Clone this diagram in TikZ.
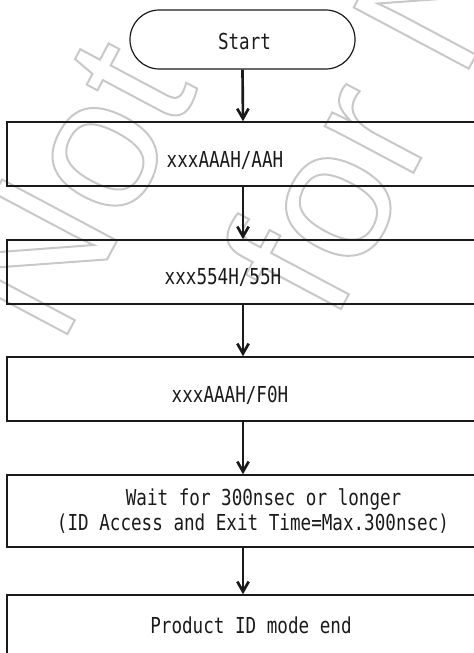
\documentclass[tikz,border=0pt]{standalone}
\usepackage{fontspec}
\usepackage{xcolor}
\usepackage{tikz}
\usetikzlibrary{arrows.meta, positioning}
\newfontfamily\flowfont[FakeStretch=0.80]{DejaVu Sans Mono}
\newfontfamily\stampfont{Liberation Sans}
\definecolor{Ink}  {HTML}{1A1A1A}
\definecolor{Stamp}{HTML}{C8C8C8}
% outline text (text rendering mode 1)
\newcommand{\outlinetext}[1]{\special{pdf:literal direct 1 Tr 1.5 w}#1\special{pdf:literal direct 0 Tr}}
\tikzset{
  flow arrow/.style={-{Straight Barb[length=7.5pt,width=8.5pt]}, line width=2pt, Ink},
}

\begin{document}
\begin{tikzpicture}[x=0.75pt, y=-0.75pt,
    terminal/.style={draw=Ink, line width=0.9pt, rounded corners=22pt,
                     minimum width=168.75pt, minimum height=44.25pt, inner sep=0pt},
    process/.style={draw=Ink, line width=1.1pt, minimum width=354pt,
                    minimum height=48pt, inner sep=0pt},
    flow text/.style={font=\flowfont\fontsize{16.5}{18.75}\selectfont, text=Ink,
                      inner sep=0pt, align=center},
    stamp/.style={font=\stampfont\fontsize{142}{150}\selectfont, text=Stamp,
                  inner sep=0pt, rotate=62, anchor=base west}]
  \useasboundingbox (0,0) rectangle (474,653);
  \clip (0,0) rectangle (474,653);
  % Watermark
  \node[stamp] (wm1) at (60,348) {\outlinetext{Not}};
  \node[stamp] (wm2) at (333,324) {\outlinetext{for New}};
  % Nodes
  \node[terminal] (start) at (242.5,39.5) {};
  \node[process]  (b1) at (243,154) {};
  \node[process]  (b2) at (243,272) {};
  \node[process]  (b3) at (243,389) {};
  \node[process, minimum height=54pt] (b4) at (243,511) {};
  \node[process]  (b5) at (243,627) {};
  % Texts
  \node[flow text, anchor=base] (t0) at (244.5,49) {Start};
  \node[flow text, anchor=base] (t1) at (225,167) {xxxAAAH/AAH};
  \node[flow text, anchor=base] (t2) at (223,284) {xxx554H/55H};
  \node[flow text, anchor=base] (t3) at (230,402) {xxxAAAH/F0H};
  \node[flow text] (t4) at (253,511) {\hphantom{00}Wait for 300nsec or longer\\(ID Access and Exit Time=Max.300nsec)};
  \node[flow text, anchor=base] (t5) at (251,633) {Product ID mode end};
  % Arrows
  \draw[flow arrow] (start.south) -- (b1.north);
  \draw[flow arrow] (b1.south) -- (b2.north);
  \draw[flow arrow] (b2.south) -- (b3.north);
  \draw[flow arrow] (b3.south) -- (b4.north);
  \draw[flow arrow] (b4.south) -- (b5.north);
\end{tikzpicture}
\end{document}
